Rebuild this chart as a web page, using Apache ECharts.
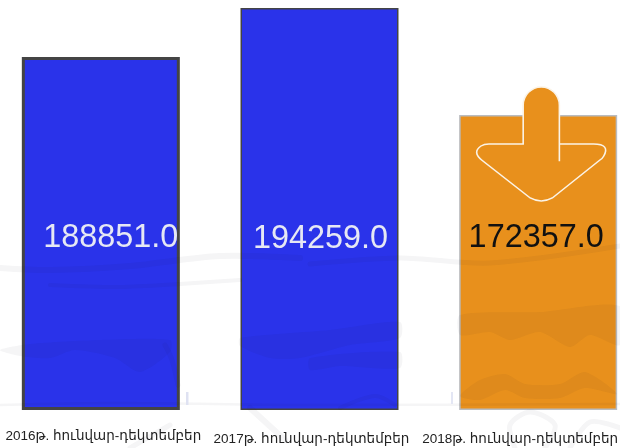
<!DOCTYPE html>
<html><head><meta charset="utf-8">
<script src="https://cdn.jsdelivr.net/npm/echarts@6/dist/echarts.min.js"></script>
<style>html,body{margin:0;padding:0;background:#fff}#c{width:620px;height:448px}</style>
</head><body><div id="c"></div>
<script>
const categories = ['2016թ. հունվար-դեկտեմբեր','2017թ. հունվար-դեկտեմբեր','2018թ. հունվար-դեկտեմբեր'];
const valueLabels = ['188851.0','194259.0','172357.0'];
// Bar heights (the drawn bars are not proportional to their printed numbers).
const barHeights = [353, 402, 295];
const labelLevel = [172, 171, 172];
const barColors = ['#2a33ea','#2a33ea','#e8901c'];
const borderColors = ['#444444','#444444','#b9bcc0'];
const borderWidths = [3, 1.5, 1.5];
const labelColors = ['#e6e8f4','#e6e8f4','#111111'];
const labelShift = [10, 1, -2];
const tickShift = [-5, 16, 36];
const tickDrop = [0, 3, 3];

const arrow = 'path://M523,143 L523,105 A18,18 0 0 1 559,105 L559,143 L593,143 Q610,143 603,155 Q602,157 599,159 L552,196 Q541,202 530,196 L482,159 Q472,151 481,145 Q484,143 489,143 Z M559,143 L559,160';

const wm = 'rgba(20,20,40,0.045)';
const stroke = (pts, w) => ({type:'polyline', silent:true, z:50,
  shape:{points:pts, smooth:0.3},
  style:{fill:null, stroke:wm, lineWidth:w, lineCap:'round', shadowBlur:2, shadowColor:wm}});
const blot = (pts) => ({type:'polygon', silent:true, z:50,
  shape:{points:pts, smooth:0.25},
  style:{fill:wm, shadowBlur:2, shadowColor:wm}});

const chart = echarts.init(document.getElementById('c'), null, {renderer:'canvas'});
chart.setOption({
  animation:false,
  backgroundColor:'#ffffff',
  grid:{left:-8.5, top:0, width:656, height:410, outerBoundsMode:'none', containLabel:false},
  xAxis:{type:'category', data:categories,
    axisLine:{show:false}, axisTick:{show:false}, splitLine:{show:false},
    axisLabel:{interval:0, margin:19, hideOverlap:false, color:'#222',
      fontFamily:'"Liberation Sans","DejaVu Sans",sans-serif', fontSize:13.5,
      formatter:(v,i)=>'{a'+i+'|'+v+'}',
      rich:Object.fromEntries(categories.map((c,i)=>['a'+i,{
        padding:[tickDrop[i],Math.max(tickShift[i],0),0,Math.max(-tickShift[i],0)], color:'#222', fontSize:13.5,
        fontFamily:'"Liberation Sans","DejaVu Sans",sans-serif'}]))}},
  yAxis:{type:'value', min:0, max:410, show:false, splitLine:{show:false}},
  graphic:[
    stroke([[0,268],[50,270],[130,266],[220,256],[300,258]],6),
    stroke([[50,285],[120,287],[180,284],[240,280]],4),
    stroke([[310,264],[400,258],[490,263],[620,246]],5),
    blot([[0,350],[30,344],[100,340],[170,340],[170,352],[140,372],[115,358],[75,350],[50,358],[20,356]]),
    blot([[240,338],[330,330],[400,322],[400,338],[350,345],[300,358],[270,358],[240,346]]),
    blot([[310,358],[400,352],[400,368],[340,366],[310,370]]),
    blot([[460,315],[540,312],[620,306],[620,345],[590,335],[570,347],[540,332],[510,340],[490,332],[460,335]]),
    blot([[460,396],[480,380],[505,374],[525,384],[560,384],[585,372],[617,394],[585,388],[560,398],[525,398],[505,390],[480,400]]),
    stroke([[165,345],[172,360],[178,385]],5),
    stroke([[0,405],[120,403],[300,405],[620,404]],2.5),
    stroke([[250,408],[285,440]],6),
    stroke([[130,448],[170,425]],5),
    stroke([[340,408],[375,396],[395,405]],4),
    stroke([[515,448],[510,425],[530,412],[555,425],[545,448]],5),
    stroke([[570,448],[590,422],[620,428]],5),
    {type:'rect', silent:true, z:51, shape:{x:186,y:392,width:2.5,height:13}, style:{fill:'#dfe2f2'}},
    {type:'rect', silent:true, z:51, shape:{x:451,y:392,width:2,height:12}, style:{fill:'#e3e6f4'}}
  ],
  series:[
    {type:'bar', barWidth:158, z:2,
     data:barHeights.map((v,i)=>({value:v,itemStyle:{color:barColors[i],borderColor:borderColors[i],borderWidth:borderWidths[i]}}))},
    {type:'scatter', z:3, symbol:arrow, symbolSize:[129,114], symbolKeepAspect:false, symbolOffset:[3,29],
     silent:true, itemStyle:{color:'#e8901c',borderColor:'#fbf3e6',borderWidth:1.5,opacity:1},
     data:[null,null,barHeights[2]]},
    {type:'scatter', z:4, symbolSize:0, silent:true, itemStyle:{opacity:1},
     data:labelLevel.map((v,i)=>({value:v,label:{show:true,position:'inside',offset:[labelShift[i],0],
       formatter:valueLabels[i],color:labelColors[i],fontSize:32.4,opacity:1,
       fontFamily:'"Liberation Sans",Arial,sans-serif'}}))}
  ]
});
</script></body></html>
